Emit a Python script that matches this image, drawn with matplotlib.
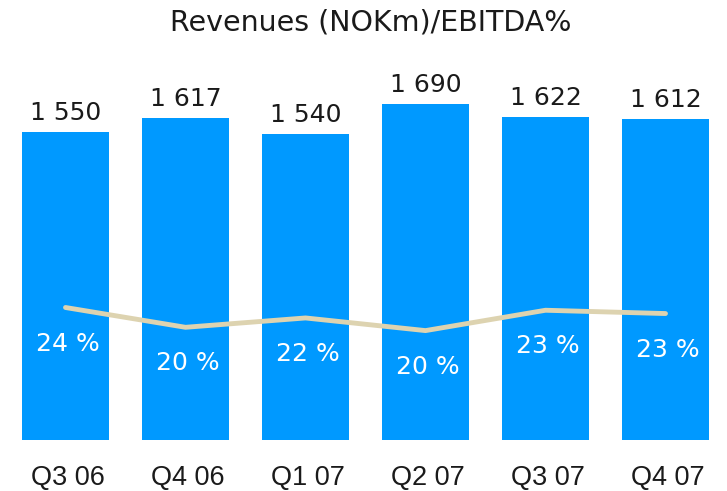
import matplotlib
matplotlib.use("Agg")
import matplotlib.pyplot as plt
import numpy as np

quarters = ["Q3 06", "Q4 06", "Q1 07", "Q2 07", "Q3 07", "Q4 07"]
revenues = [1550, 1617, 1540, 1690, 1622, 1612]
ebitda_line = [24.0, 20.4, 22.1, 19.8, 23.5, 22.9]
ebitda_labels = ["24 %", "20 %", "22 %", "20 %", "23 %", "23 %"]

bar_col = "#0099FF"
line_col = "#DDD3B0"

fig = plt.figure(figsize=(7.27, 4.91), dpi=100)
ax = fig.add_axes([0, (491 - 439.5) / 491, 1, (439.5 - 60) / 491])
x = np.arange(len(quarters))

ax.bar(x, revenues, width=0.725, color=bar_col, zorder=1)
ax.set_xlim(-65.5 / 120, (727 - 65.5) / 120)
ax.set_ylim(0, (439.5 - 60) / 0.1987)
ax.axis("off")

# revenue labels above the bars
for xi, v in zip(x, revenues):
    lbl = f"{v:,}".replace(",", " ")
    ax.annotate(lbl, (xi, v), xytext=(0, 12), textcoords="offset pixels",
                ha="center", va="baseline", fontsize=18, color="#1a1a1a")

# EBITDA margin on its own scale
ax2 = ax.twinx()
ax2.set_ylim(0, (439.5 - 60) / 5.5)
ax2.axis("off")
ax2.plot(x, ebitda_line, color=line_col, lw=3.5, solid_capstyle="round", zorder=3)
for xi, v, lbl in zip(x, ebitda_line, ebitda_labels):
    ax2.annotate(lbl, (xi, v), xytext=(2, -43), textcoords="offset pixels",
                 ha="center", va="baseline", fontsize=18, color="white")

for xi, q in zip(x, quarters):
    ax.annotate(q, (xi, 0), xytext=(2, -46), textcoords="offset pixels",
                ha="center", va="baseline", fontsize=19.5, color="#1a1a1a",
                family="Liberation Sans", annotation_clip=False)

fig.text(0.51, 1 - 30 / 491, "Revenues (NOKm)/EBITDA%", ha="center", va="baseline",
         fontsize=20.5, color="#1a1a1a")

fig.savefig("out.png", dpi=100)
